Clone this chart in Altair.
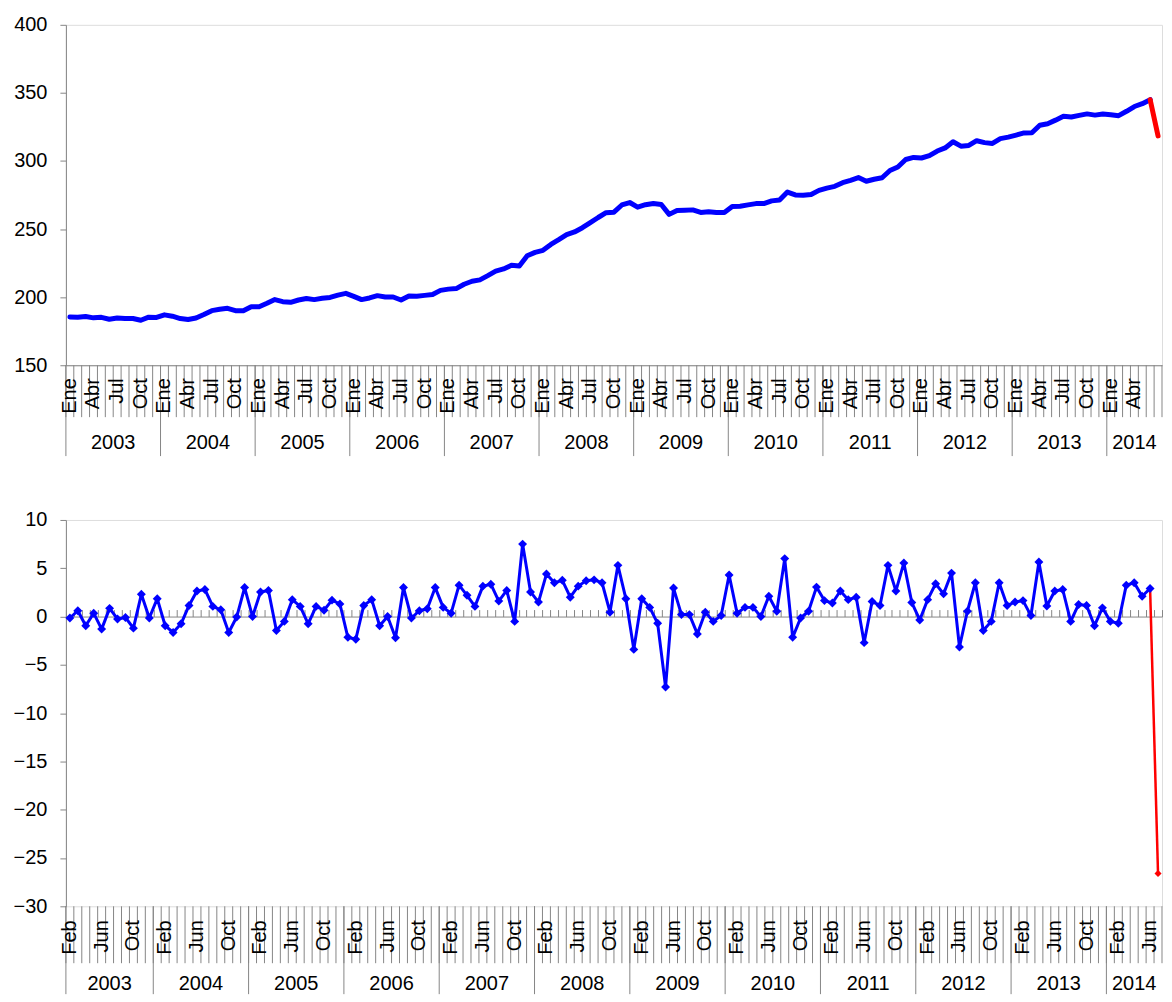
import altair as alt
import pandas as pd

MONTHS = ["Ene", "Feb", "Mar", "Abr", "May", "Jun", "Jul", "Ago", "Sep", "Oct", "Nov", "Dic"]
YEARS = list(range(2003, 2015))
TOP_LABELS = ["Ene", "Abr", "Jul", "Oct"]
BOTTOM_LABELS = ["Feb", "Jun", "Oct"]
TOP_YTICKS = [150, 200, 250, 300, 350, 400]
BOTTOM_YTICKS = [-30, -25, -20, -15, -10, -5, 0, 5, 10]

# Level, monthly: Ene 2003 .. Jul 2014
LEVEL = [
    185.4, 185.2, 185.8, 184.8, 185.2, 183.8, 184.7, 184.4, 184.3, 183.0, 185.3, 185.1,
    187.0, 186.0, 184.3, 183.6, 184.7, 187.3, 190.1, 191.1, 191.8, 190.1, 190.0, 193.0,
    193.0, 195.5, 198.2, 196.7, 196.2, 197.9, 199.0, 198.2, 199.2, 199.8, 201.5, 202.8,
    200.6, 198.2, 199.4, 201.1, 200.1, 200.1, 197.9, 200.9, 200.7, 201.3, 202.0, 205.0,
    205.9, 206.3, 209.5, 211.7, 212.7, 215.8, 219.1, 220.7, 223.4, 222.9, 230.4, 232.9,
    234.4, 238.7, 242.2, 245.9, 247.9, 251.0, 254.7, 258.5, 262.0, 262.4, 267.7, 269.5,
    266.1, 267.9, 268.8, 268.1, 260.8, 263.7, 263.9, 264.1, 262.2, 262.7, 262.1, 262.2,
    266.5, 266.8, 267.8, 268.7, 268.7, 270.7, 271.3, 277.2, 275.1, 274.9, 275.4, 278.4,
    280.1, 281.4, 284.1, 285.8, 287.8, 285.1, 286.6, 287.7, 293.0, 295.6, 301.1, 302.6,
    302.2, 303.9, 307.3, 309.6, 314.1, 310.9, 311.4, 314.9, 313.5, 312.9, 316.4, 317.5,
    319.0, 320.6, 320.7, 326.3, 327.4, 330.0, 332.8, 332.3, 333.5, 334.6, 333.7, 334.5,
    334.0, 333.3, 336.5, 340.0, 342.1, 345.0, 318.4,
]

# Monthly change: Feb 2003 .. Jul 2014
CHANGE = [
    -0.15, 0.6, -0.95, 0.35, -1.3, 0.85, -0.25, -0.1, -1.2, 2.3, -0.15,
    1.85, -0.95, -1.65, -0.75, 1.15, 2.65, 2.8, 1.05, 0.7, -1.65, -0.05, 3.0,
    0.0, 2.55, 2.7, -1.45, -0.5, 1.75, 1.05, -0.75, 1.05, 0.65, 1.7, 1.3,
    -2.15, -2.35, 1.15, 1.75, -0.95, 0.0, -2.2, 3.0, -0.15, 0.6, 0.8, 3.0,
    0.95, 0.35, 3.25, 2.2, 1.05, 3.15, 3.35, 1.6, 2.7, -0.5, 7.5, 2.55,
    1.5, 4.4, 3.5, 3.75, 2.0, 3.15, 3.7, 3.8, 3.5, 0.45, 5.3, 1.85,
    -3.4, 1.85, 0.95, -0.7, -7.3, 2.95, 0.2, 0.2, -1.8, 0.45, -0.5, 0.1,
    4.3, 0.35, 0.95, 0.95, 0.0, 2.1, 0.55, 6.0, -2.15, -0.15, 0.55, 3.05,
    1.65, 1.4, 2.65, 1.75, 2.0, -2.7, 1.55, 1.15, 5.3, 2.65, 5.55, 1.45,
    -0.35, 1.75, 3.4, 2.35, 4.5, -3.15, 0.55, 3.5, -1.45, -0.5, 3.5, 1.15,
    1.5, 1.65, 0.1, 5.65, 1.1, 2.65, 2.8, -0.5, 1.25, 1.15, -0.95, 0.9,
    -0.5, -0.7, 3.25, 3.5, 2.1, 2.9, -26.6,
]

BLUE = "#0000FF"
RED = "#FF0000"
GRAY = "#868686"
FONT = "Liberation Sans"
FS = 20
W = 1098
H1 = 341
H2 = 387

calendar = [(y, m) for y in YEARS for m in range(12)]
top_cal = calendar[:len(LEVEL)]
bot_cal = calendar[1:1 + len(CHANGE)]


def series_frame(values):
    return pd.DataFrame({"x": [i + 0.5 for i in range(len(values))], "v": values})


def month_frame(cal, shown, skip_last):
    rows = [{"x": i + 0.5, "t": MONTHS[m]} for i, (y, m) in enumerate(cal)
            if MONTHS[m] in shown and not (skip_last and i == len(cal) - 1)]
    return pd.DataFrame(rows)


def year_frames(cal):
    starts, centers = [], []
    for yr in sorted(set(y for y, _ in cal)):
        idx = [i for i, (y, _) in enumerate(cal) if y == yr]
        starts.append(idx[0])
        centers.append({"x": (idx[0] + idx[-1] + 1) / 2, "t": str(yr)})
    return pd.DataFrame({"x": starts}), pd.DataFrame(centers)


def yaxis(vals):
    return alt.Axis(values=vals, title=None, grid=False, domainColor=GRAY, tickColor=GRAY,
                    tickSize=6, labelPadding=13, labelFontSize=FS, labelFont=FONT,
                    labelColor="black", minExtent=57, maxExtent=57)


def decorations(cal, X, H, shown, mlen, moff, ylen, yoff, skip_last):
    n = len(cal)
    ystarts, ycenters = year_frames(cal)
    mrules = alt.Chart(pd.DataFrame({"x": list(range(n + 1))})).mark_rule(
        color=GRAY, strokeWidth=1).encode(x=X, y=alt.value(H), y2=alt.value(H + mlen))
    yrules = alt.Chart(ystarts).mark_rule(color=GRAY, strokeWidth=1).encode(
        x=X, y=alt.value(H), y2=alt.value(H + ylen))
    mtext = alt.Chart(month_frame(cal, shown, skip_last)).mark_text(
        angle=270, align="right", baseline="middle", font=FONT, fontSize=FS, color="black"
    ).encode(x=X, y=alt.value(H + moff), text="t:N")
    ytext = alt.Chart(ycenters).mark_text(
        align="center", baseline="middle", font=FONT, fontSize=FS, color="black"
    ).encode(x=X, y=alt.value(H + yoff), text="t:N")
    return [mrules, yrules, mtext, ytext]


# ---------- top panel ----------
n1 = len(top_cal)
X1 = alt.X("x:Q", scale=alt.Scale(domain=[0, n1], nice=False, zero=False),
           axis=alt.Axis(orient="bottom", title=None, grid=False, ticks=False, labels=False,
                         domainColor=GRAY))
Y1 = alt.Y("v:Q", scale=alt.Scale(domain=[150, 400], nice=False, zero=False),
           axis=yaxis(TOP_YTICKS))
lvl = series_frame(LEVEL)
top_blue = alt.Chart(lvl.iloc[:-1]).mark_line(
    color=BLUE, strokeWidth=5, strokeCap="round", strokeJoin="round").encode(x=X1, y=Y1)
top_red = alt.Chart(lvl.iloc[-2:]).mark_line(
    color=RED, strokeWidth=5, strokeCap="round", strokeJoin="round").encode(x=X1, y=Y1)
top = alt.layer(
    *decorations(top_cal, X1, H1, TOP_LABELS, 52, 13, 91, 78, True),
    top_blue, top_red,
).properties(width=W, height=H1)

# ---------- bottom panel ----------
n2 = len(bot_cal)
zero_px = H2 * (10 - 0) / (10 - (-30))
X2 = alt.X("x:Q", scale=alt.Scale(domain=[0, n2], nice=False, zero=False),
           axis=alt.Axis(orient="top", offset=-zero_px, title=None, grid=False, labels=False,
                         values=list(range(n2 + 1)), tickSize=7, tickColor=GRAY,
                         domainColor=GRAY))
Y2 = alt.Y("v:Q", scale=alt.Scale(domain=[-30, 10], nice=False, zero=False),
           axis=yaxis(BOTTOM_YTICKS))
chg = series_frame(CHANGE)
b_blue = alt.Chart(chg.iloc[:-1]).mark_line(color=BLUE, strokeWidth=3, strokeJoin="round").encode(x=X2, y=Y2)
b_red = alt.Chart(chg.iloc[-2:]).mark_line(color=RED, strokeWidth=2.5).encode(x=X2, y=Y2)
b_pts = alt.Chart(chg.iloc[:-1]).mark_point(shape="diamond", filled=True, size=80, color=BLUE, opacity=1).encode(x=X2, y=Y2)
b_end = alt.Chart(chg.iloc[-1:]).mark_point(shape="diamond", filled=True, size=50, color=RED, opacity=1).encode(x=X2, y=Y2)
bottom = alt.layer(
    *decorations(bot_cal, X2, H2, BOTTOM_LABELS, 57, 14, 88, 78, False),
    b_blue, b_red, b_pts, b_end,
).properties(width=W, height=H2)

chart = alt.vconcat(top, bottom, spacing=52).properties(
    padding={"left": 0, "top": 5, "right": 0, "bottom": 0},
    background="white",
).configure_view(stroke=None).configure(font=FONT)

chart.save("out.html", embed_options={"renderer": "svg", "actions": False})
